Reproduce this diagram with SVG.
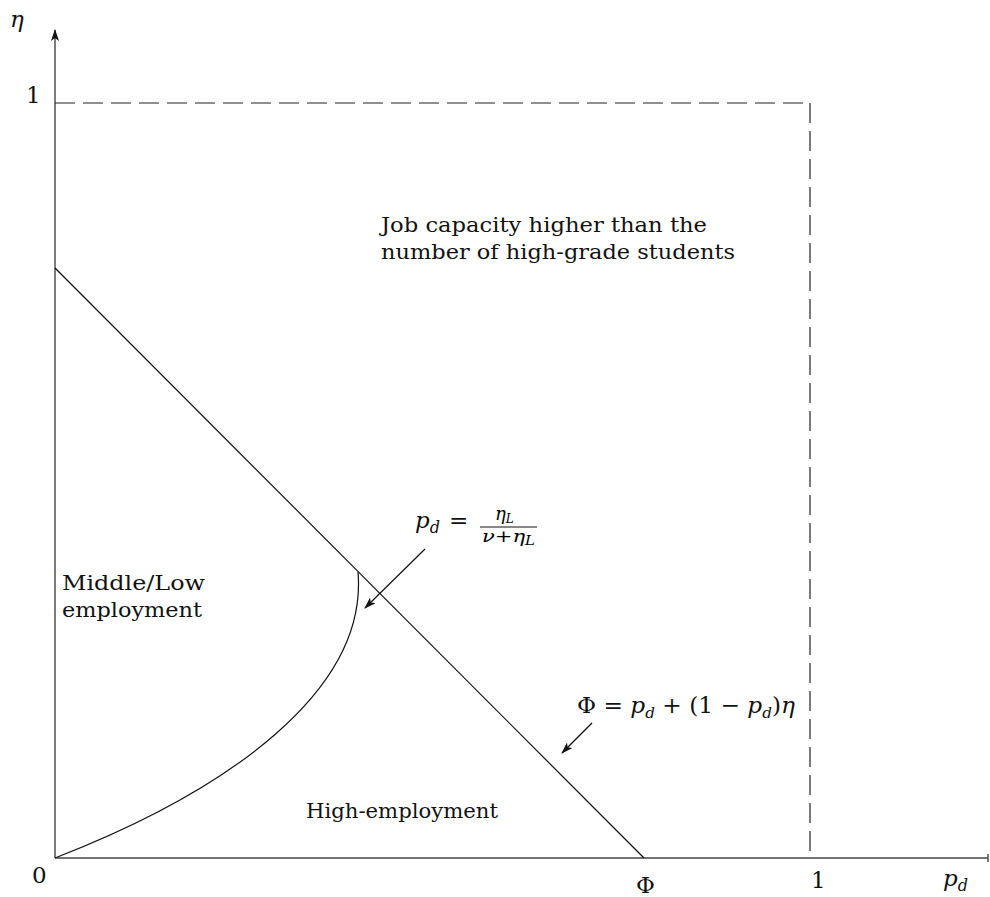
<svg xmlns="http://www.w3.org/2000/svg" width="990" height="897" viewBox="0 0 990 897">
<style>
.t{font-family:"DejaVu Serif","Liberation Serif",serif;font-size:20px;fill:#111}
.m{font-family:"DejaVu Serif","Liberation Serif",serif;font-size:23px;fill:#111}
.i{font-style:italic}
.ax{stroke:#444;stroke-width:1.4;fill:none}
.ln{stroke:#111;stroke-width:1.2;fill:none}
.ds{stroke:#222;stroke-width:1.2;fill:none;stroke-dasharray:20 8}
</style>
<defs>
<marker id="ah" markerWidth="12" markerHeight="8" refX="11" refY="4" orient="auto" markerUnits="userSpaceOnUse">
<path d="M0,0 L12,4 L0,8 L3,4 Z" fill="#111"/>
</marker>
</defs>
<rect width="990" height="897" fill="#fff"/>
<g id="axes">
<line class="ax" x1="55" y1="858" x2="55" y2="30" marker-end="url(#ah)"/>
<line class="ax" x1="55" y1="858" x2="988" y2="858"/>
<line class="ax" x1="988" y1="854" x2="988" y2="862"/>
</g>
<g id="bounds">
<path class="ds" d="M55,103 H810"/>
<path class="ds" d="M810,103 V858"/>
</g>
<g id="connectors">
<line class="ln" x1="55" y1="268" x2="644" y2="858"/>
<path class="ln" d="M55,858 C230,790 368,690 358,572"/>
<line class="ln" x1="425" y1="549" x2="365" y2="608" marker-end="url(#ah)"/>
<line class="ln" x1="592" y1="723" x2="562" y2="753" marker-end="url(#ah)"/>
</g>
<g id="labels">
<text class="m i" x="10" y="27">η</text>
<text class="m" x="26" y="103">1</text>
<text class="m" x="32" y="883">0</text>
<text class="m" x="636" y="893">Φ</text>
<text class="m" x="811" y="888">1</text>
<text class="m i" x="943" y="886">p<tspan font-size="16" dy="5">d</tspan></text>
<text class="t" x="381" y="232" textLength="326" lengthAdjust="spacingAndGlyphs">Job capacity higher than the</text>
<text class="t" x="381" y="259" textLength="354" lengthAdjust="spacingAndGlyphs">number of high-grade students</text>
<text class="t" x="62" y="590" textLength="143" lengthAdjust="spacingAndGlyphs">Middle/Low</text>
<text class="t" x="62" y="617" textLength="140" lengthAdjust="spacingAndGlyphs">employment</text>
<text class="t" x="306" y="818" textLength="192" lengthAdjust="spacingAndGlyphs">High-employment</text>
<g id="eq1">
<text class="m i" x="415" y="528">p<tspan font-size="16" dy="5">d</tspan></text>
<text class="m" x="449" y="528">=</text>
<text x="495" y="520" font-family="DejaVu Serif,serif" font-size="18" font-style="italic">η<tspan font-size="12" dy="3">L</tspan></text>
<line x1="480" y1="527" x2="537" y2="527" stroke="#111" stroke-width="1"/>
<text x="482" y="542" font-family="DejaVu Serif,serif" font-size="17" textLength="53" lengthAdjust="spacingAndGlyphs"><tspan font-style="italic">ν</tspan>+<tspan font-style="italic">η</tspan><tspan font-size="12" dy="3" font-style="italic">L</tspan></text>
</g>
<text class="m" x="577" y="713" textLength="218" lengthAdjust="spacingAndGlyphs">Φ = <tspan font-style="italic">p</tspan><tspan font-size="15" dy="5" font-style="italic">d</tspan><tspan dy="-5"> + (1 − </tspan><tspan font-style="italic">p</tspan><tspan font-size="15" dy="5" font-style="italic">d</tspan><tspan dy="-5">)</tspan><tspan font-style="italic">η</tspan></text>
</g>
</svg>
